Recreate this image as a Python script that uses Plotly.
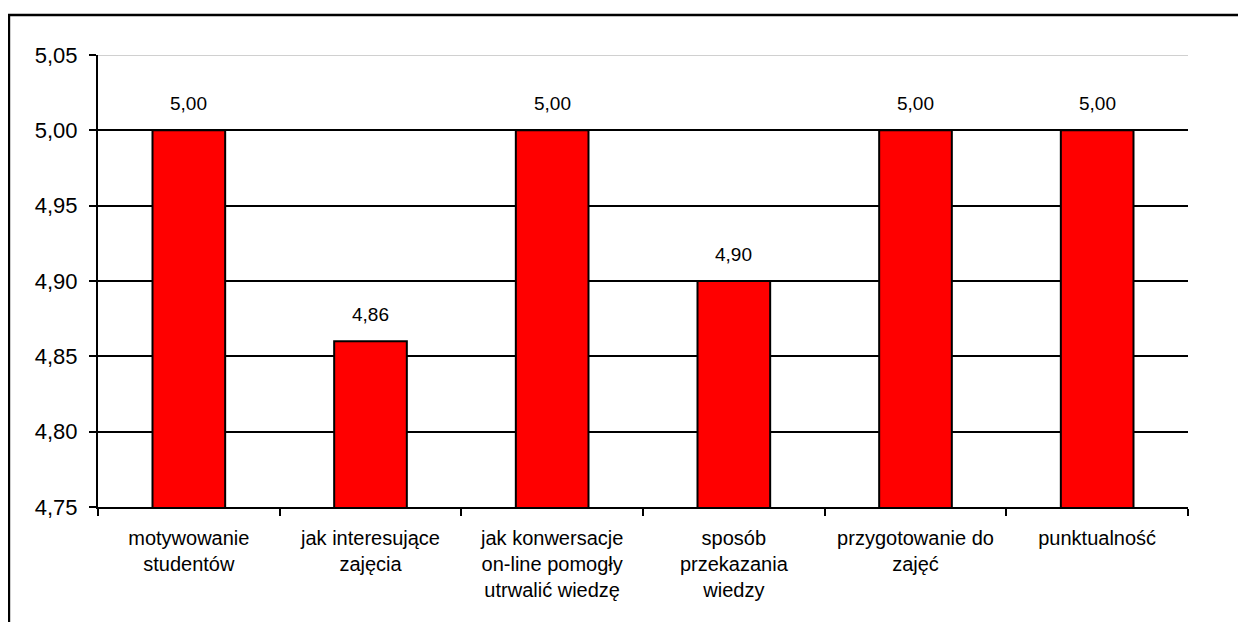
import plotly.graph_objects as go

categories = [
    "motywowanie<br>studentów",
    "jak interesujące<br>zajęcia",
    "jak konwersacje<br>on-line pomogły<br>utrwalić wiedzę",
    "sposób<br>przekazania<br>wiedzy",
    "przygotowanie do<br>zajęć",
    "punktualność",
]
scores = [5.00, 4.86, 5.00, 4.90, 5.00, 5.00]
y_ticks = [4.75, 4.80, 4.85, 4.90, 4.95, 5.00, 5.05]

font_family = "Liberation Sans, Arial, sans-serif"

fig = go.Figure()
fig.add_trace(go.Bar(
    x=categories, y=scores,
    marker=dict(color="#ff0000", line=dict(color="black", width=2)),
    width=0.4,
))

# value labels sit well above the bars, like in the original
for cat, val in zip(categories, scores):
    fig.add_annotation(x=cat, y=val, text=f"{val:.2f}".replace(".", ","),
                       showarrow=False, yshift=27,
                       font=dict(size=19, color="black", family=font_family))

fig.update_layout(
    width=1230, height=614,
    margin=dict(l=90, r=50, t=47, b=115),
    paper_bgcolor="white", plot_bgcolor="white",
    separators=",.",
    showlegend=False,
    font=dict(family=font_family, size=20, color="black"),
)
fig.update_yaxes(
    range=[4.75, 5.05], tickvals=y_ticks, tickformat=".2f",
    showgrid=True, gridcolor="black", gridwidth=2,
    showline=True, linecolor="black", linewidth=2,
    ticks="outside", ticklen=7, tickwidth=2, tickcolor="black",
    tickfont=dict(size=22), ticklabelstandoff=7, zeroline=False,
)
fig.update_xaxes(
    showline=True, linecolor="black", linewidth=2,
    ticks="outside", tickson="boundaries", ticklen=7, tickwidth=2, tickcolor="black",
    tickfont=dict(size=20), ticklabelstandoff=12, showgrid=False,
)
# top gridline is light grey in the original
fig.add_shape(type="line", xref="paper", yref="y", x0=0, x1=1, y0=5.05, y1=5.05,
              line=dict(color="#c0c0c0", width=1.5), layer="above")
# outer chart frame
fig.add_shape(type="rect", xref="paper", yref="paper",
              x0=-0.0817, x1=1.2, y0=-0.5, y1=1.0885,
              line=dict(color="black", width=2.5), layer="below")

fig.write_html("out.html")
